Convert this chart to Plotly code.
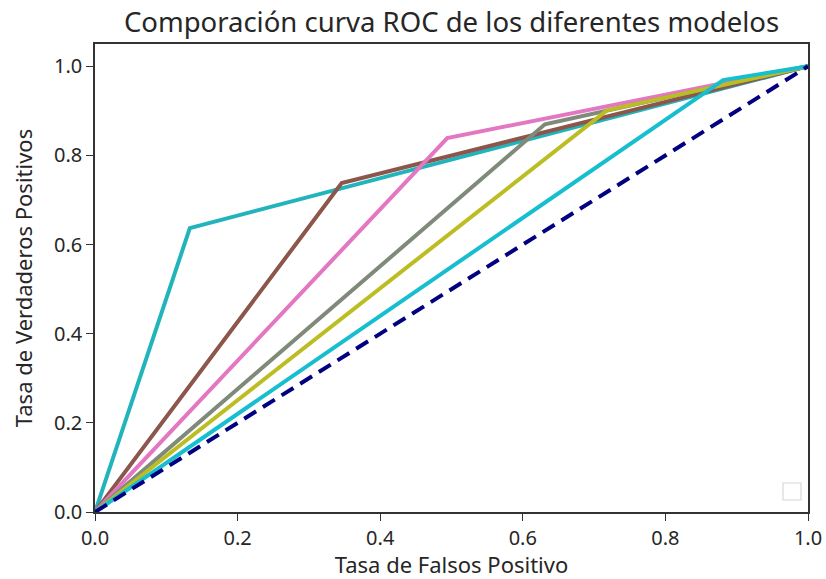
import plotly.graph_objects as go

# ROC curves: (fpr, tpr) points for each model
model_names = ["Modelo A", "Modelo B", "Modelo C", "Modelo D", "Modelo E", "Modelo F"]
fpr_values = [
    [0.0, 0.133, 1.0],
    [0.0, 0.346, 1.0],
    [0.0, 0.494, 1.0],
    [0.0, 0.631, 1.0],
    [0.0, 0.718, 1.0],
    [0.0, 0.881, 1.0],
]
tpr_values = [
    [0.0, 0.637, 1.0],
    [0.0, 0.738, 1.0],
    [0.0, 0.839, 1.0],
    [0.0, 0.870, 1.0],
    [0.0, 0.901, 1.0],
    [0.0, 0.969, 1.0],
]
line_colors = ["#22b4bd", "#8c564b", "#e377c2", "#7f8a7a", "#bcbd22", "#17becf"]
diag_x = [0.0, 1.0]
diag_y = [0.0, 1.0]
x_ticks = [0.0, 0.2, 0.4, 0.6, 0.8, 1.0]
y_ticks = [0.0, 0.2, 0.4, 0.6, 0.8, 1.0]

FONT = "Noto Sans"
TXT = "#262626"

fig = go.Figure()
for name, fx, ty, c in zip(model_names, fpr_values, tpr_values, line_colors):
    fig.add_trace(go.Scatter(x=fx, y=ty, mode="lines", name=name,
                             line=dict(color=c, width=4), showlegend=False))
fig.add_trace(go.Scatter(x=diag_x, y=diag_y, mode="lines", showlegend=False,
                         line=dict(color="#000080", width=4, dash="14px,8px")))

axis_common = dict(showline=True, linecolor="#333333", linewidth=1.5, mirror=True,
                   ticks="outside", ticklen=7, tickwidth=1.3, tickcolor="#333333", showgrid=False,
                   zeroline=False, tickfont=dict(family=FONT, size=20, color=TXT),
                   tickformat=".1f", automargin=False)
fig.update_xaxes(range=[0, 1], tickvals=x_ticks, **axis_common,
                 title=dict(text="Tasa de Falsos Positivo", standoff=13,
                            font=dict(family=FONT, size=22, color=TXT)))
fig.update_yaxes(range=[0, 1.05], tickvals=y_ticks, **axis_common,
                 title=dict(text="Tasa de Verdaderos Positivos", standoff=15,
                            font=dict(family=FONT, size=22, color=TXT)))

# empty legend box (as in the reference)
fig.add_shape(type="rect", xref="paper", yref="paper",
              x0=(783 - 95) / 713, x1=(801 - 95) / 713,
              y0=(512 - 500) / 468, y1=(512 - 483) / 468,
              line=dict(color="#d8d8d8", width=1.2), fillcolor="white")

fig.update_layout(
    width=826, height=579,
    margin=dict(l=95, r=18, t=44, b=67, autoexpand=False),
    plot_bgcolor="white", paper_bgcolor="white",
    title=dict(text="Comporación curva ROC de los diferentes modelos",
               x=(95 + 808) / 2 / 826, xanchor="center", y=1 - 22 / 579, yanchor="middle",
               font=dict(family=FONT, size=27.5, color=TXT)),
)
fig.write_html("out.html")
